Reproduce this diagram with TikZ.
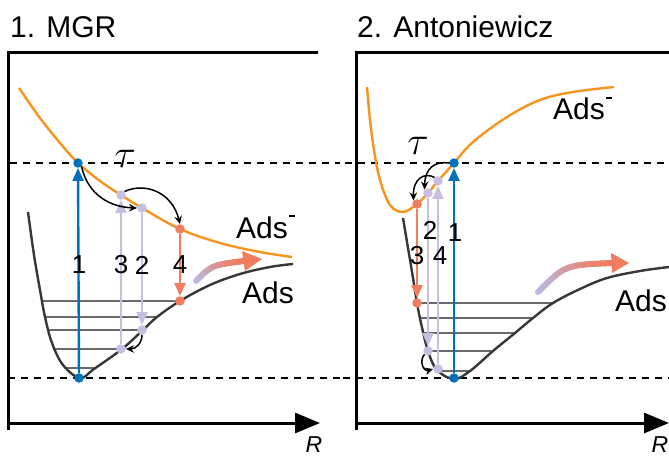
\RequirePackage{fix-cm}
\documentclass[tikz,border=0pt]{standalone}
\usepackage{fontspec}
\setmainfont{Liberation Sans}
\usetikzlibrary{arrows.meta}
\definecolor{orng}{RGB}{247,148,30}
\definecolor{blu}{RGB}{0,114,188}
\definecolor{sal}{RGB}{240,125,95}
\definecolor{lav}{RGB}{200,190,225}
\definecolor{glav}{RGB}{185,185,225}
\definecolor{crv}{RGB}{55,55,55}
\definecolor{lvl}{RGB}{105,105,105}
\newcommand{\dashsup}{\kern0.05em\rule[0.69em]{0.18em}{0.09em}}
\tikzset{
  frame/.style={line width=3pt, black},
  axisarrow/.style={frame, -{Triangle[length=25pt,width=20pt]}},
  dashln/.style={dash pattern=on 7pt off 6pt, line width=1.1pt, black},
  pot/.style={line width=2.4pt, crv, smooth, tension=0.6},
  anion/.style={line width=2.4pt, orng, smooth, tension=0.6},
  level/.style={line width=1.2pt, lvl},
  dot/.style={circle, inner sep=0pt, minimum size=9.5pt, draw=none},
  vert/.style={line width=2.4pt, -{Triangle[width=11pt,length=13pt]}},
  curv/.style={line width=1.5pt, black, -{Stealth[length=8pt,width=7.5pt]}},
  num/.style={font=\fontsize{26}{30}\selectfont, inner sep=0pt},
  lab/.style={font=\fontsize{30}{36}\selectfont, inner sep=0pt, anchor=base west},
  axlabel/.style={font=\fontsize{23}{28}\selectfont\itshape, inner sep=0pt, anchor=base},
  taulabel/.style={font=\fontsize{40}{46}\selectfont, inner sep=0pt},
}
\begin{document}
\begin{tikzpicture}[x=1pt,y=-1pt]
\useasboundingbox (0,0) rectangle (669,457);
% ---------- Panel 1 ----------
\draw[frame] (318,53) -- (8,53) -- (8,430);
\draw[axisarrow] (8,423) -- (320,423);
\draw[dashln] (10,163) -- (340,163);
\draw[dashln] (8,378) -- (340,378);
% levels
\draw[level] (42,301) -- (180,301);
\draw[level] (45,317) -- (157,317);
\draw[level] (48,330) -- (143,330);
\draw[level] (54,349) -- (122,349);
\draw[level] (65,368) -- (94,368);
% curves
\draw[pot] plot coordinates {(28,212) (34,255) (40,290) (45,317) (52,343) (63,365) (80,378) (94,369) (122,349) (143,330) (157,317) (180,301) (210,285) (240,274) (270,267) (293,264)};
\draw[anion] plot coordinates {(19,88) (40,118) (60,143) (78,163) (100,181) (121,195) (142,208) (180,229) (220,243) (260,252) (292,257)};
% dots
\node[dot, fill=blu] (a1top) at (78,163) {};
\node[dot, fill=blu] (a1bot) at (79,378) {};
\node[dot, fill=lav] (a3top) at (121,195) {};
\node[dot, fill=lav] (a3bot) at (121,349) {};
\node[dot, fill=lav] (a2top) at (142,208) {};
\node[dot, fill=lav] (a2bot) at (142,330) {};
\node[dot, fill=sal] (a4top) at (180,229) {};
\node[dot, fill=sal] (a4bot) at (180,301) {};
% vertical transitions
\draw[vert, blu] (a1bot) -- (a1top);
\draw[vert, lav] (a3bot) -- (a3top);
\draw[vert, lav] (a2top) -- (a2bot);
\draw[vert, sal] (a4top) -- (a4bot);
\node[num] (n11) at (79,265) {1};
\node[num] (n13) at (121,265) {3};
\node[num] (n12) at (142,265) {2};
\node[num] (n14) at (180,265) {4};
% curved arrows
\draw[curv] (a1top.south east) .. controls (88,195) and (110,207) .. (a2top.west);
\draw[curv] (a3top.north east) .. controls (145,182) and (172,192) .. (a4top.north);
\draw[curv] (a2bot.south) .. controls (142,343) and (136,349) .. (a3bot.east);
% gradient arrow
\coordinate (g1s) at (196,281);
\coordinate (g1c) at (212,265);
\coordinate (g1e) at (244,261);
\coordinate (g1t) at (262,259);
\coordinate (g1u) at (242,251);
\coordinate (g1d) at (245,271);
\foreach \i [evaluate=\i as \t using \i/24] in {0,...,24} {
  \path (g1s) .. controls (g1c) .. (g1e) coordinate[pos=\t] (g1p\i);
}
\foreach \i [evaluate=\i as \j using int(\i+1), evaluate=\i as \c using int(100*\i/23)] in {0,...,23} {
  \draw[line width=6pt, line cap=round, color=sal!\c!glav] (g1p\i) -- (g1p\j);
}
\fill[sal] (g1u) -- (g1t) -- (g1d) -- cycle;
% labels
\node[lab] (t1) at (10,38) {1. MGR};
\node[lab] (ads1m) at (236,238) {Ads\dashsup};
\node[lab] (ads1) at (242,303) {Ads};
\node[axlabel] (r1) at (314,452) {R};
\node[taulabel] (tau1) at (125,159) {$\tau$};
% ---------- Panel 2 ----------
\draw[frame] (669,53) -- (356,53) -- (356,430);
\draw[axisarrow] (356,423) -- (669,423);
\draw[dashln] (345,163) -- (669,163);
\draw[dashln] (343,378) -- (669,378);
\draw[level] (417,303) -- (553,303);
\draw[level] (420,318) -- (533,318);
\draw[level] (424,333) -- (515,333);
\draw[level] (428,351) -- (493,351);
\draw[level] (437,371) -- (470,371);
\draw[pot] plot coordinates {(403,218) (408,248) (413,278) (417,303) (421,323) (428,351) (437,370) (454,379) (470,371) (493,351) (515,333) (533,318) (553,303) (580,289) (607,278) (640,271) (669,267)};
\draw[anion] plot coordinates {(367,87) (370,120) (374,150) (380,180) (390,205) (403,212) (417,204) (428,193) (438,181) (454,163) (473,142) (507,117) (540,100) (573,92) (614,87)};
\node[dot, fill=blu] (b1top) at (454,163) {};
\node[dot, fill=blu] (b1bot) at (454,378) {};
\node[dot, fill=sal] (b3top) at (417,204) {};
\node[dot, fill=sal] (b3bot) at (417,303) {};
\node[dot, fill=lav] (b2top) at (428,193) {};
\node[dot, fill=lav] (b2bot) at (428,351) {};
\node[dot, fill=lav] (b4top) at (438,181) {};
\node[dot, fill=lav] (b4bot) at (438,369) {};
\draw[vert, blu] (b1bot) -- (b1top);
\draw[vert, sal] (b3top) -- (b3bot);
\draw[vert, lav] (b2top) -- (b2bot);
\draw[vert, lav] (b4bot) -- (b4top);
\node[num] (n21) at (455,233) {1};
\node[num] (n22) at (430,230) {2};
\node[num] (n23) at (417,256) {3};
\node[num] (n24) at (440,256) {4};
\draw[curv] (b1top.west) .. controls (435,161) and (425,168) .. (b2top.north west);
\draw[curv] (b4top.north west) .. controls (425,172) and (413,178) .. (b3top.north west);
\draw[curv] (b2bot.south west) .. controls (419,360) and (423,372) .. (b4bot.west);
\coordinate (g2s) at (538,292);
\coordinate (g2c) at (565,265);
\coordinate (g2e) at (612,263);
\coordinate (g2t) at (629,263);
\coordinate (g2u) at (611,253);
\coordinate (g2d) at (612,273);
\foreach \i [evaluate=\i as \t using \i/24] in {0,...,24} {
  \path (g2s) .. controls (g2c) .. (g2e) coordinate[pos=\t] (g2p\i);
}
\foreach \i [evaluate=\i as \j using int(\i+1), evaluate=\i as \c using int(100*\i/23)] in {0,...,23} {
  \draw[line width=6pt, line cap=round, color=sal!\c!glav] (g2p\i) -- (g2p\j);
}
\fill[sal] (g2u) -- (g2t) -- (g2d) -- cycle;
\node[lab] (t2) at (357,38) {2. Antoniewicz};
\node[lab] (ads2m) at (553,120) {Ads\dashsup};
\node[lab] (ads2) at (615,311) {Ads};
\node[axlabel] (r2) at (660,452) {R};
\node[taulabel] (tau2) at (418,146) {$\tau$};
\end{tikzpicture}
\end{document}
